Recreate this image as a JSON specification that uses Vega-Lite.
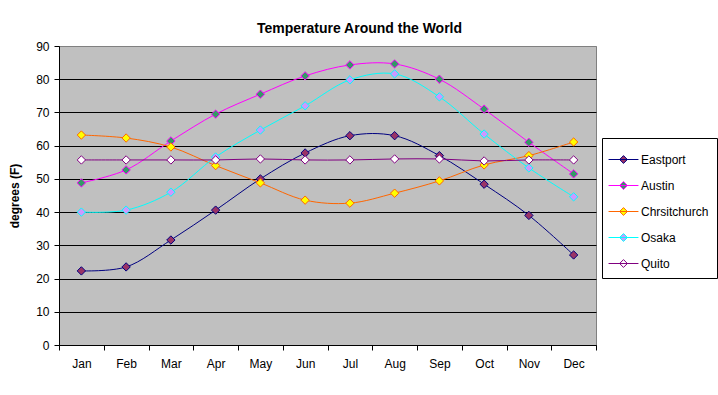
{
  "$schema": "https://vega.github.io/schema/vega-lite/v6.json",
  "autosize": "none",
  "width": 537,
  "height": 299,
  "padding": {"left": 59, "top": 46, "right": 122, "bottom": 50},
  "background": "white",
  "config": {
    "font": "Liberation Sans",
    "view": {"fill": "#C0C0C0", "stroke": "#808080", "strokeWidth": 1},
    "axis": {"labelFont": "Liberation Sans", "titleFont": "Liberation Sans", "labelColor": "black", "titleColor": "black", "domainColor": "black", "tickColor": "black", "labelFontSize": 12},
    "legend": {"orient": "none", "legendX": 543, "legendY": 92, "padding": 8, "strokeColor": "black", "fillColor": "white",
      "symbolType": "M-1.15,0H1.15M0,-0.3L0.3,0L0,0.3L-0.3,0Z", "symbolSize": 676, "symbolStrokeWidth": 1, "symbolOpacity": 1,
      "labelFont": "Liberation Sans", "labelFontSize": 12, "labelColor": "black", "rowPadding": 6, "labelOffset": 4, "title": null}
  },
  "title": {"text": "Temperature Around the World", "fontSize": 14, "fontWeight": "bold", "font": "Liberation Sans", "anchor": "middle", "dx": 32, "offset": 4, "color": "black"},
  "data": {"values": [
    {"m": "Jan", "city": "Eastport", "t": 22.3}, {"m": "Feb", "city": "Eastport", "t": 23.5}, {"m": "Mar", "city": "Eastport", "t": 31.6}, {"m": "Apr", "city": "Eastport", "t": 40.6}, {"m": "May", "city": "Eastport", "t": 50.0}, {"m": "Jun", "city": "Eastport", "t": 57.8}, {"m": "Jul", "city": "Eastport", "t": 63.0}, {"m": "Aug", "city": "Eastport", "t": 63.0}, {"m": "Sep", "city": "Eastport", "t": 57.0}, {"m": "Oct", "city": "Eastport", "t": 48.4}, {"m": "Nov", "city": "Eastport", "t": 39.0}, {"m": "Dec", "city": "Eastport", "t": 27.1},
    {"m": "Jan", "city": "Austin", "t": 48.8}, {"m": "Feb", "city": "Austin", "t": 52.7}, {"m": "Mar", "city": "Austin", "t": 61.4}, {"m": "Apr", "city": "Austin", "t": 69.5}, {"m": "May", "city": "Austin", "t": 75.5}, {"m": "Jun", "city": "Austin", "t": 81.0}, {"m": "Jul", "city": "Austin", "t": 84.3}, {"m": "Aug", "city": "Austin", "t": 84.6}, {"m": "Sep", "city": "Austin", "t": 80.0}, {"m": "Oct", "city": "Austin", "t": 71.0}, {"m": "Nov", "city": "Austin", "t": 61.0}, {"m": "Dec", "city": "Austin", "t": 51.5},
    {"m": "Jan", "city": "Chrsitchurch", "t": 63.2}, {"m": "Feb", "city": "Chrsitchurch", "t": 62.3}, {"m": "Mar", "city": "Chrsitchurch", "t": 59.6}, {"m": "Apr", "city": "Chrsitchurch", "t": 54.0}, {"m": "May", "city": "Chrsitchurch", "t": 48.8}, {"m": "Jun", "city": "Chrsitchurch", "t": 43.6}, {"m": "Jul", "city": "Chrsitchurch", "t": 42.7}, {"m": "Aug", "city": "Chrsitchurch", "t": 45.7}, {"m": "Sep", "city": "Chrsitchurch", "t": 49.4}, {"m": "Oct", "city": "Chrsitchurch", "t": 54.2}, {"m": "Nov", "city": "Chrsitchurch", "t": 57.0}, {"m": "Dec", "city": "Chrsitchurch", "t": 61.1},
    {"m": "Jan", "city": "Osaka", "t": 40.0}, {"m": "Feb", "city": "Osaka", "t": 40.6}, {"m": "Mar", "city": "Osaka", "t": 46.0}, {"m": "Apr", "city": "Osaka", "t": 56.6}, {"m": "May", "city": "Osaka", "t": 64.7}, {"m": "Jun", "city": "Osaka", "t": 72.0}, {"m": "Jul", "city": "Osaka", "t": 79.8}, {"m": "Aug", "city": "Osaka", "t": 81.6}, {"m": "Sep", "city": "Osaka", "t": 74.7}, {"m": "Oct", "city": "Osaka", "t": 63.5}, {"m": "Nov", "city": "Osaka", "t": 53.3}, {"m": "Dec", "city": "Osaka", "t": 44.6},
    {"m": "Jan", "city": "Quito", "t": 55.7}, {"m": "Feb", "city": "Quito", "t": 55.7}, {"m": "Mar", "city": "Quito", "t": 55.7}, {"m": "Apr", "city": "Quito", "t": 55.7}, {"m": "May", "city": "Quito", "t": 56.0}, {"m": "Jun", "city": "Quito", "t": 55.7}, {"m": "Jul", "city": "Quito", "t": 55.7}, {"m": "Aug", "city": "Quito", "t": 56.0}, {"m": "Sep", "city": "Quito", "t": 56.0}, {"m": "Oct", "city": "Quito", "t": 55.4}, {"m": "Nov", "city": "Quito", "t": 55.7}, {"m": "Dec", "city": "Quito", "t": 55.7}
  ]},
  "encoding": {
    "x": {"field": "m", "type": "ordinal", "sort": ["Jan","Feb","Mar","Apr","May","Jun","Jul","Aug","Sep","Oct","Nov","Dec"], "bandPosition": 0.5,
      "scale": {"type": "band", "paddingInner": 0, "paddingOuter": 0},
      "axis": {"title": null, "labelAngle": 0, "tickBand": "extent", "labelPadding": 8, "tickSize": 5, "grid": false, "domainColor": "black"}},
    "y": {"field": "t", "type": "quantitative",
      "scale": {"domain": [0, 90], "nice": false, "zero": true},
      "axis": {"title": "degrees (F)", "titleFontSize": 12, "titleFontWeight": "bold", "titlePadding": 14, "values": [0,10,20,30,40,50,60,70,80,90], "labelPadding": 5, "tickSize": 5,
        "grid": true, "gridColor": {"condition": {"test": "datum.value == 90", "value": "#808080"}, "value": "black"}, "gridOpacity": 1, "gridWidth": 1}}
  },
  "layer": [
    {
      "mark": {"type": "line", "interpolate": "catmull-rom", "strokeWidth": 1},
      "encoding": {
        "stroke": {"field": "city", "type": "nominal", "sort": ["Eastport","Austin","Chrsitchurch","Osaka","Quito"],
          "scale": {"domain": ["Eastport","Austin","Chrsitchurch","Osaka","Quito"], "range": ["#000080","#FF00FF","#FF6600","#00FFFF","#800080"]}}
      }
    },
    {
      "mark": {"type": "point", "shape": "diamond", "size": 70, "filled": true, "strokeWidth": 1, "opacity": 1},
      "encoding": {
        "stroke": {"field": "city", "type": "nominal", "sort": ["Eastport","Austin","Chrsitchurch","Osaka","Quito"],
          "scale": {"domain": ["Eastport","Austin","Chrsitchurch","Osaka","Quito"], "range": ["#000080","#FF00FF","#FF6600","#00FFFF","#800080"]}},
        "fill": {"field": "city", "type": "nominal", "sort": ["Eastport","Austin","Chrsitchurch","Osaka","Quito"],
          "scale": {"domain": ["Eastport","Austin","Chrsitchurch","Osaka","Quito"], "range": ["#993366","#339966","#FFFF00","#CC99FF","#FFFFFF"]}}
      }
    }
  ]
}
